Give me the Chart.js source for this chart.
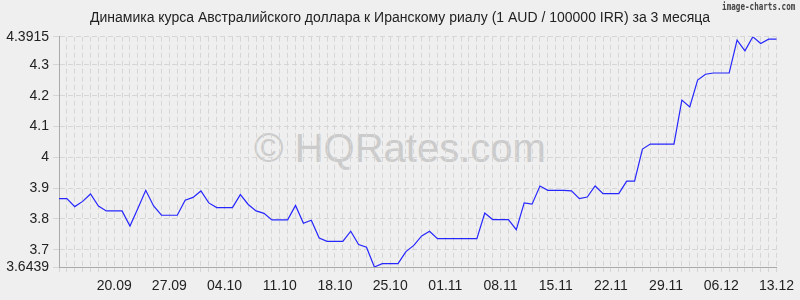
<!DOCTYPE html>
<html>
<head>
<meta charset="utf-8">
<script src="https://cdn.jsdelivr.net/npm/chart.js@4/dist/chart.umd.min.js"></script>
<style>
  html, body { margin: 0; padding: 0; background: #efefef; }
  #wrap { position: relative; width: 800px; height: 300px; overflow: hidden; }
  #wm { position: absolute; left: 0; width: 800px; top: 124px; text-align: center;
        font-family: "Liberation Sans", Arial, sans-serif; font-size: 40px; color: #cbcbcb; line-height: 48px; z-index: 0; }
  #brand { position: absolute; right: 5px; top: 1px; font-family: "DejaVu Sans Mono", monospace; font-weight: bold;
           font-size: 10px; color: #444; transform: scaleX(0.76); transform-origin: right top; z-index: 2; }
  canvas { position: absolute; left: 0; top: 0; z-index: 1; }
</style>
</head>
<body>
<div id="wrap">
  <div id="wm">© HQRates.com</div>
  <div id="brand">image-charts.com</div>
  <canvas id="c" width="800" height="300"></canvas>
</div>
<script>
const titleText = "Динамика курса Австралийского доллара к Иранскому риалу (1 AUD / 100000 IRR) за 3 месяца";

const categories = [
  "13.09","14.09","15.09","16.09","17.09","18.09","19.09","20.09","21.09","22.09","23.09","24.09","25.09","26.09","27.09","28.09","29.09","30.09",
  "01.10","02.10","03.10","04.10","05.10","06.10","07.10","08.10","09.10","10.10","11.10","12.10","13.10","14.10","15.10","16.10","17.10","18.10","19.10","20.10","21.10","22.10","23.10","24.10","25.10","26.10","27.10","28.10","29.10","30.10","31.10",
  "01.11","02.11","03.11","04.11","05.11","06.11","07.11","08.11","09.11","10.11","11.11","12.11","13.11","14.11","15.11","16.11","17.11","18.11","19.11","20.11","21.11","22.11","23.11","24.11","25.11","26.11","27.11","28.11","29.11","30.11",
  "01.12","02.12","03.12","04.12","05.12","06.12","07.12","08.12","09.12","10.12","11.12","12.12","13.12"
];

const rates = [
  3.866, 3.866, 3.840, 3.857, 3.881, 3.842, 3.826, 3.826, 3.826, 3.777,
  3.834, 3.893, 3.842, 3.812, 3.812, 3.812, 3.861, 3.870, 3.891, 3.852,
  3.837, 3.837, 3.837, 3.879, 3.847, 3.826, 3.818, 3.797, 3.797, 3.797,
  3.844, 3.786, 3.796, 3.738, 3.727, 3.727, 3.727, 3.760, 3.717, 3.708,
  3.6439, 3.655, 3.655, 3.655, 3.694, 3.714, 3.745, 3.760, 3.736, 3.736,
  3.736, 3.736, 3.736, 3.736, 3.819, 3.798, 3.798, 3.798, 3.765, 3.852,
  3.848, 3.907, 3.893, 3.893, 3.893, 3.891, 3.866, 3.871, 3.907, 3.882,
  3.882, 3.882, 3.923, 3.923, 4.027, 4.043, 4.043, 4.043, 4.043, 4.186,
  4.164, 4.251, 4.270, 4.274, 4.274, 4.274, 4.381, 4.346, 4.3915, 4.370,
  4.384, 4.384
];

const xTickLabels = ["20.09","27.09","04.10","11.10","18.10","25.10","01.11","08.11","15.11","22.11","29.11","06.12","13.12"];
const yTickValues = [3.6439, 3.7, 3.8, 3.9, 4, 4.1, 4.2, 4.3, 4.3915];
const yTickLabels = ["3.6439", "3.7", "3.8", "3.9", "4", "4.1", "4.2", "4.3", "4.3915"];

const FONT = "'Liberation Sans', Arial, sans-serif";
const gridColor = "#d6d6d6";

new Chart(document.getElementById("c"), {
  type: "line",
  data: {
    labels: categories,
    datasets: [{
      data: rates,
      borderColor: "#2626ff",
      borderWidth: 1.2,
      pointRadius: 0,
      tension: 0,
      fill: false,
      yAxisID: "y"
    }]
  },
  options: {
    responsive: false,
    animation: false,
    events: [],
    layout: { padding: { left: 0, right: 0, top: 0, bottom: 0 } },
    plugins: {
      legend: { display: false },
      tooltip: { enabled: false },
      title: {
        display: true,
        text: titleText,
        color: "#222",
        font: { family: FONT, size: 14, weight: "normal" },
        padding: { top: 10, bottom: 10 }
      }
    },
    scales: {
      x: {
        type: "category",
        offset: false,
        afterFit: (s) => { s.height = 33; },
        grid: { color: gridColor, lineWidth: 1, drawTicks: true, tickLength: 5, tickColor: gridColor },
        border: { display: true, color: "#aaaaaa", width: 1, dash: [5, 3] },
        ticks: {
          autoSkip: false, maxRotation: 0, minRotation: 0, padding: 6,
          color: "#222", font: { family: FONT, size: 14 },
          callback: function (v, i) {
            const l = categories[i];
            return xTickLabels.includes(l) ? l : "";
          }
        }
      },
      y: {
        min: 3.6439,
        max: 4.3915,
        afterFit: (s) => { s.width = 59; },
        afterBuildTicks: (s) => { s.ticks = yTickValues.map(v => ({ value: v })); },
        grid: { color: gridColor, lineWidth: 1, tickLength: 6, tickColor: gridColor },
        border: { display: true, color: "#aaaaaa", width: 1, dash: [5, 3] },
        ticks: {
          padding: 4, color: "#222", font: { family: FONT, size: 14 },
          callback: function (v) {
            const k = yTickValues.findIndex(t => Math.abs(t - v) < 1e-6);
            return k >= 0 ? yTickLabels[k] : "";
          }
        }
      },
      yRight: {
        position: "right",
        min: 3.6439,
        max: 4.3915,
        afterFit: (s) => { s.width = 21; },
        grid: { display: false, drawOnChartArea: false },
        border: { display: false },
        ticks: { display: false }
      }
    }
  }
});
</script>
</body>
</html>
